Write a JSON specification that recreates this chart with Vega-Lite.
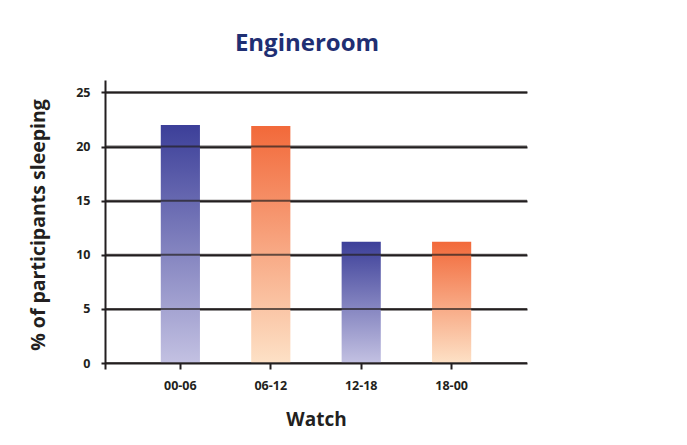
{
  "$schema": "https://vega.github.io/schema/vega-lite/v6.json",
  "autosize": "none",
  "width": 422,
  "height": 289,
  "padding": {"left": 105, "top": 80, "right": 160, "bottom": 76},
  "background": "white",
  "config": {
    "view": {"stroke": null},
    "font": "Open Sans"
  },
  "title": {
    "text": "Engineroom",
    "fontSize": 24,
    "font": "Open Sans",
    "fontWeight": "bold",
    "color": "#1f2f73",
    "anchor": "middle",
    "dx": -9,
    "offset": 24
  },
  "datasets": {
    "sleep": [
      {"watch": "00-06", "pct": 22.0, "shift": "A"},
      {"watch": "06-12", "pct": 21.9, "shift": "B"},
      {"watch": "12-18", "pct": 11.2, "shift": "A"},
      {"watch": "18-00", "pct": 11.2, "shift": "B"}
    ],
    "grid": [
      {"tick": 0}, {"tick": 5}, {"tick": 10}, {"tick": 15}, {"tick": 20}, {"tick": 25}
    ]
  },
  "encoding": {
    "y": {
      "field": "pct",
      "type": "quantitative",
      "scale": {"domain": [-0.55, 26.15], "nice": false, "zero": false},
      "axis": {
        "title": "% of participants sleeping",
        "values": [0, 5, 10, 15, 20, 25],
        "grid": true,
        "gridColor": "#231f20",
        "gridWidth": 2,
        "domainColor": "#231f20",
        "domainWidth": 2,
        "tickColor": "#231f20",
        "tickWidth": 2,
        "tickSize": 4,
        "labelFont": "Open Sans",
        "labelFontWeight": "bold",
        "labelFontSize": 12.5,
        "labelColor": "#231f20",
        "labelPadding": 11,
        "titleFont": "Open Sans",
        "titleFontWeight": "bold",
        "titleFontSize": 19.5,
        "titleColor": "#231f20",
        "titlePadding": 27
      }
    }
  },
  "layer": [
    {
      "data": {"name": "sleep"},
      "transform": [{"filter": "datum.shift === 'A'"}],
      "mark": {
        "type": "bar",
        "color": {
          "gradient": "linear",
          "x1": 0, "y1": 0, "x2": 0, "y2": 1,
          "stops": [
            {"offset": 0, "color": "#3c3f99"},
            {"offset": 1, "color": "#c3c1e2"}
          ]
        }
      },
      "encoding": {
        "x": {
          "field": "watch",
          "type": "nominal",
          "sort": ["00-06", "06-12", "12-18", "18-00"],
          "scale": {"domain": ["00-06", "06-12", "12-18", "18-00"], "paddingInner": 0.567, "paddingOuter": 0.617},
          "axis": {
            "title": "Watch",
            "labelAngle": 0,
            "domain": false,
            "offset": -6,
            "tickColor": "#231f20",
            "tickWidth": 2,
            "tickSize": 6,
            "labelFont": "Open Sans",
            "labelFontWeight": "bold",
            "labelFontSize": 12.5,
            "labelColor": "#231f20",
            "labelPadding": 10,
            "titleFont": "Open Sans",
            "titleFontWeight": "bold",
            "titleFontSize": 19,
            "titleColor": "#231f20",
            "titlePadding": 19
          }
        },
        "y": {"field": "pct", "type": "quantitative"},
        "y2": {"datum": 0}
      }
    },
    {
      "data": {"name": "sleep"},
      "transform": [{"filter": "datum.shift === 'B'"}],
      "mark": {
        "type": "bar",
        "color": {
          "gradient": "linear",
          "x1": 0, "y1": 0, "x2": 0, "y2": 1,
          "stops": [
            {"offset": 0, "color": "#f2693a"},
            {"offset": 1, "color": "#fde1c6"}
          ]
        }
      },
      "encoding": {
        "x": {"field": "watch", "type": "nominal", "sort": ["00-06", "06-12", "12-18", "18-00"]},
        "y": {"field": "pct", "type": "quantitative"},
        "y2": {"datum": 0}
      }
    },
    {
      "data": {"name": "grid"},
      "mark": {"type": "rule", "color": "#231f20", "strokeWidth": 2, "opacity": 0.7},
      "encoding": {
        "y": {"field": "tick", "type": "quantitative"}
      }
    }
  ]
}
